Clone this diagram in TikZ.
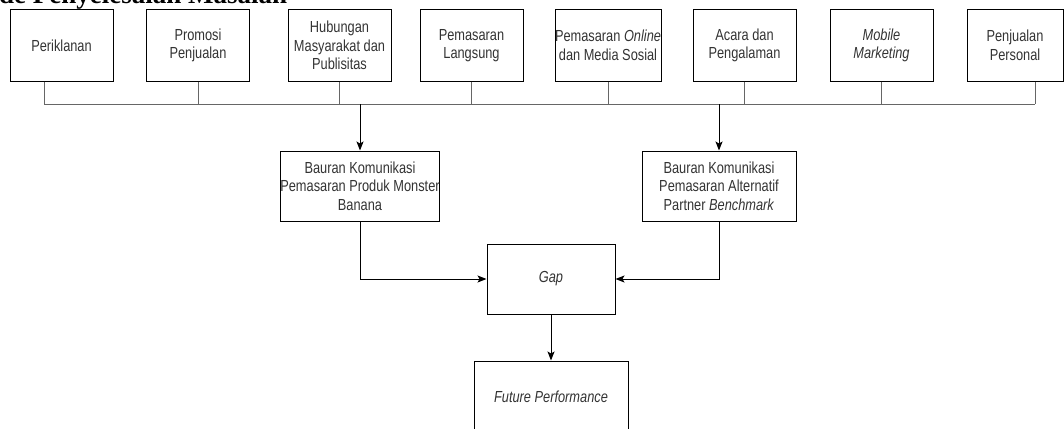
\documentclass[tikz,border=0pt]{standalone}
\usepackage{fontspec}
\setmainfont{Liberation Serif}
\setsansfont{Liberation Sans}[FakeStretch=0.8]
\usetikzlibrary{arrows.meta}
\definecolor{txt}{HTML}{333333}
\definecolor{busc}{HTML}{666666}
\begin{document}
\begin{tikzpicture}[x=1pt,y=-1pt,
  box/.style={draw=black,line width=1pt,minimum width=103pt,minimum height=71pt,inner sep=0pt,
    align=center,text=txt,font=\sffamily\fontsize{16pt}{18.5pt}\selectfont},
  busline/.style={draw=busc,line width=1pt},
  arr/.style={draw=black,line width=1pt,-{Stealth[length=9pt,width=7pt,inset=2pt]}}]
\useasboundingbox (0,0) rectangle (1064,428);
\clip (0,0) rectangle (1064,428);
\node[anchor=base west,font=\bfseries\fontsize{27pt}{30pt}\selectfont,inner sep=0pt] (title) at (-1,3.5) {de Penyelesaian Masalah};
\node[box] (b1) at (61.5,45.5) {Periklanan};
\node[box] (b2) at (198,45.5) {Promosi\\Penjualan};
\node[box] (b3) at (339.5,45.5) {Hubungan\\Masyarakat dan\\Publisitas};
\node[box] (b4) at (471.5,45.5) {Pemasaran\\Langsung};
\node[box] (b5) at (608,45.5) {Pemasaran \textit{Online}\\dan Media Sosial};
\node[box] (b6) at (744.5,45.5) {Acara dan\\Pengalaman};
\node[box] (b7) at (881.5,45.5) {\textit{Mobile}\\\textit{Marketing}};
\node[box,minimum width=96pt] (b8) at (1015,45.5) {Penjualan\\Personal};
\node[box,minimum width=154pt,minimum height=70pt] (m1) at (360,186) {Bauran Komunikasi\\Pemasaran Produk Monster\\Banana};
\node[box,minimum width=154pt,minimum height=70pt] (m2) at (719,186) {Bauran Komunikasi\\Pemasaran Alternatif\\Partner \textit{Benchmark}};
\node[box,minimum width=128pt,minimum height=70pt] (gap) at (551,279) {\textit{Gap}};
\node[box,minimum width=154pt,minimum height=72pt] (fut) at (551,397) {\textit{Future Performance}};
\coordinate (busL) at (44,104);
\coordinate (busR) at (1035,104);
\draw[busline] (busL) -- (busR);
\draw[busline] (b1.south -| busL) -- (busL);
\draw[busline] (b8.south -| busR) -- (busR);
\foreach \n in {b2,b3,b4,b5,b6,b7} \draw[busline] (\n.south) -- (\n.south |- busL);
\draw[arr] (m1.north |- busL) -- (m1.north);
\draw[arr] (m2.north |- busL) -- (m2.north);
\draw[arr] (m1.south) |- (gap.west);
\draw[arr] (m2.south) |- (gap.east);
\draw[arr] (gap.south) -- (fut.north);
\end{tikzpicture}
\end{document}
